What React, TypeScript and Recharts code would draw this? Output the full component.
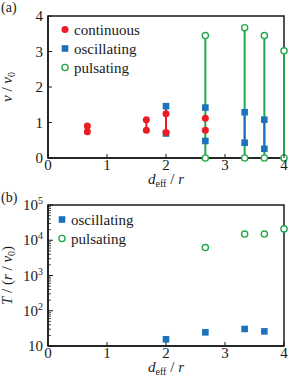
import { ScatterChart, Scatter, XAxis, YAxis, ReferenceArea, Legend } from "recharts";

const SERIF = "Liberation Serif, Times New Roman, DejaVu Serif, serif";
const RED = "#ec1c24";
const BLUE = "#1b73be";
const GREEN = "#22a84a";
const INK = "#1a1a1a";

// d_eff / r positions
const xTicks = [0, 1, 2, 3, 4];
const velTicks = [0, 1, 2, 3, 4];
const periodMajorTicks = [10, 100, 1000, 10000, 100000];
const periodMinorSteps = [2, 3, 4, 5, 6, 7, 8, 9];

// panel (a): v / v0 (min and max per d_eff)
const continuousX = [0.667, 0.667, 1.667, 1.667, 2, 2, 2.667, 2.667];
const continuousV = [0.9, 0.74, 1.08, 0.78, 1.25, 0.72, 1.12, 0.78];
const oscillatingX = [2, 2, 2.667, 2.667, 3.333, 3.333, 3.667, 3.667];
const oscillatingV = [1.46, 0.69, 1.42, 0.48, 1.29, 0.43, 1.08, 0.26];
const pulsatingX = [2.667, 2.667, 3.333, 3.333, 3.667, 3.667, 4, 4];
const pulsatingV = [3.45, 0, 3.67, 0, 3.45, 0, 3.02, 0];

// where a min-max connector is visible for each regime
const continuousLinkX = [0.667, 1.667, 2];
const oscillatingLinkX = [2, 3.333, 3.667];
const pulsatingLinkX = [2.667, 3.333, 3.667, 4];

// panel (b): period T / (r / v0)
const oscPeriodX = [2, 2.667, 3.333, 3.667];
const oscPeriodT = [15.5, 24.4, 30.4, 26];
const pulsPeriodX = [2.667, 3.333, 3.667, 4];
const pulsPeriodT = [6200, 15000, 15000, 21000];

type Pt = { x: number; y: number };

const toPoints = (xs: number[], ys: number[]): Pt[] => xs.map((x, i) => ({ x, y: ys[i] }));

const groupByX = (pts: Pt[], keep: number[]): Pt[][] =>
  keep.map((x) => pts.filter((p) => p.x === x)).filter((g) => g.length > 1);

const continuous = toPoints(continuousX, continuousV);
const oscillating = toPoints(oscillatingX, oscillatingV);
const pulsating = toPoints(pulsatingX, pulsatingV);
const oscPeriod = toPoints(oscPeriodX, oscPeriodT);
const pulsPeriod = toPoints(pulsPeriodX, pulsPeriodT);

const periodTicks = [
  ...periodMajorTicks,
  ...periodMajorTicks.slice(0, -1).flatMap((d) => periodMinorSteps.map((s) => s * d)),
].sort((a, b) => a - b);

const Dot = (color: string) => (p: any) => <circle cx={p.cx} cy={p.cy} r={3.5} fill={color} />;
const Square = (color: string) => (p: any) => (
  <rect x={p.cx - 3.3} y={p.cy - 3.3} width={6.6} height={6.6} fill={color} />
);
const Ring = (color: string) => (p: any) => (
  <circle cx={p.cx} cy={p.cy} r={3.1} fill="#fff" stroke={color} strokeWidth={1.4} />
);
const Nothing = () => <g />;

function XTick({ x, y, payload }: any) {
  return (
    <g>
      <line x1={x} x2={x} y1={y} y2={y - 4} stroke={INK} strokeWidth={1} />
      <text x={x} y={y + 12} textAnchor="middle" fontSize={15} fontFamily={SERIF} fill={INK}>
        {payload.value}
      </text>
    </g>
  );
}

function VelTick({ x, y, payload }: any) {
  return (
    <g>
      <line x1={x} x2={x + 4} y1={y} y2={y} stroke={INK} strokeWidth={1} />
      <text x={x - 5} y={y + 5} textAnchor="end" fontSize={15} fontFamily={SERIF} fill={INK}>
        {payload.value}
      </text>
    </g>
  );
}

function LogTick({ x, y, payload }: any) {
  const v = payload.value as number;
  const major = periodMajorTicks.includes(v);
  if (!major) {
    return <line x1={x} x2={x + 3} y1={y} y2={y} stroke={INK} strokeWidth={0.8} />;
  }
  const exp = Math.round(Math.log10(v));
  return (
    <g>
      <line x1={x} x2={x + 5} y1={y} y2={y} stroke={INK} strokeWidth={1} />
      <text x={x - 5} y={y + 5} textAnchor="end" fontSize={15} fontFamily={SERIF} fill={INK}>
        <tspan>10</tspan>
        {exp > 1 && (
          <tspan dy={-6} fontSize={10}>
            {exp}
          </tspan>
        )}
      </text>
    </g>
  );
}

function XTitle({ viewBox }: any) {
  const cx = viewBox.x + viewBox.width / 2;
  return (
    <text x={cx} y={viewBox.y + 26} textAnchor="middle" fontSize={15} fontFamily={SERIF} fill={INK}>
      <tspan fontStyle="italic">d</tspan>
      <tspan fontSize={10} dy={3}>eff</tspan>
      <tspan dy={-3}> / </tspan>
      <tspan fontStyle="italic">r</tspan>
    </text>
  );
}

function VelTitle({ viewBox }: any) {
  const cx = 12;
  const cy = viewBox.y + viewBox.height / 2;
  return (
    <text
      x={cx}
      y={cy}
      transform={`rotate(-90 ${cx} ${cy})`}
      textAnchor="middle"
      fontSize={15}
      fontFamily={SERIF}
      fill={INK}
    >
      <tspan fontStyle="italic">v</tspan>
      <tspan> / </tspan>
      <tspan fontStyle="italic">v</tspan>
      <tspan fontSize={10} dy={3}>0</tspan>
    </text>
  );
}

function PeriodTitle({ viewBox }: any) {
  const cx = 12;
  const cy = viewBox.y + viewBox.height / 2;
  return (
    <text
      x={cx}
      y={cy}
      transform={`rotate(-90 ${cx} ${cy})`}
      textAnchor="middle"
      fontSize={15}
      fontFamily={SERIF}
      fill={INK}
    >
      <tspan fontStyle="italic">T</tspan>
      <tspan> / (</tspan>
      <tspan fontStyle="italic">r</tspan>
      <tspan> / </tspan>
      <tspan fontStyle="italic">v</tspan>
      <tspan fontSize={10} dy={3}>0</tspan>
      <tspan dy={-3}>)</tspan>
    </text>
  );
}

type LegendRow = { label: string; marker: "dot" | "square" | "ring"; color: string };

const legendA: LegendRow[] = [
  { label: "continuous", marker: "dot", color: RED },
  { label: "oscillating", marker: "square", color: BLUE },
  { label: "pulsating", marker: "ring", color: GREEN },
];
const legendB: LegendRow[] = [
  { label: "oscillating", marker: "square", color: BLUE },
  { label: "pulsating", marker: "ring", color: GREEN },
];

function LegendBox({ rows }: { rows: LegendRow[] }) {
  const rowH = 19;
  return (
    <svg width={110} height={rows.length * rowH} style={{ display: "block" }}>
      {rows.map((r, i) => {
        const cy = i * rowH + rowH / 2;
        const cx = 6;
        return (
          <g key={r.label}>
            {r.marker === "dot" && <circle cx={cx} cy={cy} r={3.5} fill={r.color} />}
            {r.marker === "square" && (
              <rect x={cx - 3.3} y={cy - 3.3} width={6.6} height={6.6} fill={r.color} />
            )}
            {r.marker === "ring" && (
              <circle cx={cx} cy={cy} r={3.1} fill="#fff" stroke={r.color} strokeWidth={1.4} />
            )}
            <text x={cx + 9} y={cy + 5} fontSize={15} fontFamily={SERIF} fill={INK}>
              {r.label}
            </text>
          </g>
        );
      })}
    </svg>
  );
}

function PanelLabel({ text, top }: { text: string; top: number }) {
  return (
    <div
      style={{
        position: "absolute",
        left: 1,
        top,
        fontFamily: SERIF,
        fontSize: 14,
        color: INK,
        lineHeight: "14px",
      }}
    >
      {text}
    </div>
  );
}

const rangeLines = (groups: Pt[][], color: string, key: string) =>
  groups.map((g, i) => (
    <Scatter
      key={`${key}-${i}`}
      data={g}
      line={{ stroke: color, strokeWidth: 2 }}
      shape={Nothing}
      isAnimationActive={false}
      legendType="none"
    />
  ));

export default function App() {
  return (
    <div style={{ position: "absolute", left: 0, top: 0, width: 289, height: 378, background: "#fff" }}>
      <PanelLabel text="(a)" top={1} />
      <div style={{ position: "absolute", left: 0, top: 0 }}>
        <ScatterChart width={289} height={190} margin={{ top: 16, right: 5, bottom: 0, left: 0 }}>
          <XAxis
            type="number"
            dataKey="x"
            domain={[0, 4]}
            ticks={xTicks}
            height={32}
            tickSize={0}
            tickMargin={0}
            tickLine={false}
            tick={<XTick />}
            axisLine={{ stroke: INK, strokeWidth: 1.5 }}
            label={<XTitle />}
          />
          <YAxis
            type="number"
            dataKey="y"
            domain={[0, 4]}
            ticks={velTicks}
            width={48}
            tickSize={0}
            tickMargin={0}
            tickLine={false}
            tick={<VelTick />}
            axisLine={{ stroke: INK, strokeWidth: 1.5 }}
            label={<VelTitle />}
          />
          <ReferenceArea x1={0} x2={4} y1={0} y2={4} fill="none" stroke={INK} strokeWidth={1.5} ifOverflow="visible" />
          {rangeLines(groupByX(pulsating, pulsatingLinkX), GREEN, "puls")}
          {rangeLines(groupByX(oscillating, oscillatingLinkX), BLUE, "osc")}
          {rangeLines(groupByX(continuous, continuousLinkX), RED, "cont")}
          <Scatter data={oscillating} shape={Square(BLUE)} isAnimationActive={false} />
          <Scatter data={continuous} shape={Dot(RED)} isAnimationActive={false} />
          <Scatter data={pulsating} shape={Ring(GREEN)} isAnimationActive={false} />
          <Legend
            layout="horizontal"
            verticalAlign="middle"
            align="center"
            content={() => <LegendBox rows={legendA} />}
            wrapperStyle={{ position: "absolute", left: 59, top: 20, width: 110 }}
          />
        </ScatterChart>
      </div>

      <PanelLabel text="(b)" top={191} />
      <div style={{ position: "absolute", left: 0, top: 190 }}>
        <ScatterChart width={289} height={188} margin={{ top: 15, right: 5, bottom: 0, left: 0 }}>
          <XAxis
            type="number"
            dataKey="x"
            domain={[0, 4]}
            ticks={xTicks}
            height={32}
            tickSize={0}
            tickMargin={0}
            tickLine={false}
            tick={<XTick />}
            axisLine={{ stroke: INK, strokeWidth: 1.5 }}
            label={<XTitle />}
          />
          <YAxis
            type="number"
            dataKey="y"
            scale="log"
            domain={[10, 100000]}
            ticks={periodTicks}
            interval={0}
            width={48}
            tickSize={0}
            tickMargin={0}
            tickLine={false}
            tick={<LogTick />}
            axisLine={{ stroke: INK, strokeWidth: 1.5 }}
            label={<PeriodTitle />}
          />
          <ReferenceArea x1={0} x2={4} y1={10} y2={100000} fill="none" stroke={INK} strokeWidth={1.5} ifOverflow="visible" />
          <Scatter data={oscPeriod} shape={Square(BLUE)} isAnimationActive={false} />
          <Scatter data={pulsPeriod} shape={Ring(GREEN)} isAnimationActive={false} />
          <Legend
            layout="horizontal"
            verticalAlign="middle"
            align="center"
            content={() => <LegendBox rows={legendB} />}
            wrapperStyle={{ position: "absolute", left: 56, top: 20, width: 110 }}
          />
        </ScatterChart>
      </div>
    </div>
  );
}
